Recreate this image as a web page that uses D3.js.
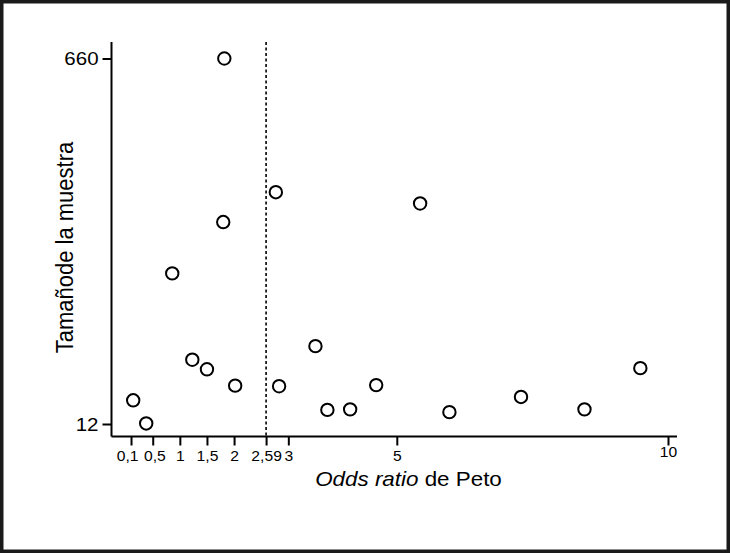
<!DOCTYPE html>
<html>
<head>
<meta charset="utf-8">
<script src="https://cdn.jsdelivr.net/npm/d3@7"></script>
<style>
  html, body { margin: 0; padding: 0; background: #fff; }
  svg { display: block; }
  text { font-family: "Liberation Sans", Arial, Helvetica, sans-serif; fill: #000; }
</style>
</head>
<body>
<svg id="chart" width="730" height="553"></svg>
<script>
// Data: Peto odds ratio (x) vs sample size (y)
const oddsRatio = [1.82, 2.77, 5.43, 1.80, 0.86, 3.50, 1.23, 1.50, 9.49, 2.02, 2.83, 4.62, 7.29, 0.14, 3.72, 4.14, 8.46, 5.97, 0.38];
const sampleSize = [660, 423, 403, 370, 279, 150, 126, 109, 111, 80, 79, 81, 60, 54, 37, 38, 38, 33, 13];
const xTickValues = [0.1, 0.5, 1, 1.5, 2, 2.59, 3, 5, 10];
const yTickValues = [12, 660];
const pooledOR = 2.59;

const svg = d3.select("#chart");
const W = 730, H = 553;

// outer frame
svg.append("rect")
  .attr("x", 1.75).attr("y", 1.75)
  .attr("width", W - 3.5).attr("height", H - 3.5)
  .attr("fill", "#fff").attr("stroke", "#1a1a1a").attr("stroke-width", 3.5);

const axisX = 111.5, axisY = 436.5;
const x = d3.scaleLinear().domain([0, 10]).range([125.6, 668]);
const y = d3.scaleLinear().domain([12, 660]).range([424, 58.5]);

const fmt = d => String(d).replace(".", ",");
// small label nudges so the crowded first labels do not overlap
const labelShift = { 0.1: -3.5, 0.5: 1.5, 10: 0 };

// x axis
const gx = svg.append("g").attr("transform", `translate(0,${axisY})`)
  .call(d3.axisBottom(x).tickValues(xTickValues).tickFormat(fmt).tickSize(9).tickPadding(6));
gx.select(".domain").remove();
gx.selectAll(".tick line").attr("stroke", "#000").attr("stroke-width", 2);
gx.selectAll(".tick text")
  .attr("font-size", 14).attr("fill", "#000")
  .attr("font-family", "Liberation Sans, Arial, sans-serif")
  .attr("x", d => labelShift[d] || 0)
  .attr("y", d => d === 10 ? 11 : 15)
  .attr("transform", "scale(1.12,1)");
svg.append("line")
  .attr("x1", axisX).attr("x2", 677)
  .attr("y1", axisY).attr("y2", axisY)
  .attr("stroke", "#000").attr("stroke-width", 2);

// y axis
const gy = svg.append("g").attr("transform", `translate(${axisX},0)`)
  .call(d3.axisLeft(y).tickValues(yTickValues).tickSize(9).tickPadding(4));
gy.select(".domain").remove();
gy.selectAll(".tick line").attr("stroke", "#000").attr("stroke-width", 2);
gy.selectAll(".tick text")
  .attr("font-size", 19).attr("fill", "#000")
  .attr("font-family", "Liberation Sans, Arial, sans-serif")
  .attr("x", -12)
  .attr("transform", "scale(1.08,1)");
svg.append("line")
  .attr("x1", axisX).attr("x2", axisX)
  .attr("y1", 42).attr("y2", axisY)
  .attr("stroke", "#000").attr("stroke-width", 2);

// pooled OR dashed line
svg.append("line")
  .attr("x1", x(pooledOR)).attr("x2", x(pooledOR))
  .attr("y1", 42).attr("y2", axisY)
  .attr("stroke", "#000").attr("stroke-width", 1.6)
  .attr("stroke-dasharray", "3,2.5");

// points
const pts = oddsRatio.map((v, i) => ({ or: v, n: sampleSize[i] }));
svg.append("g").selectAll("circle").data(pts).join("circle")
  .attr("cx", d => x(d.or)).attr("cy", d => y(d.n))
  .attr("r", 6.2)
  .attr("fill", "#fff").attr("stroke", "#000").attr("stroke-width", 2);

// x axis title
const xt = svg.append("text")
  .attr("transform", "translate(408.5,486) scale(1.12,1)")
  .attr("text-anchor", "middle").attr("font-size", 20);
xt.append("tspan").attr("font-style", "italic").text("Odds ratio");
xt.append("tspan").text(" de Peto");

// y axis title
svg.append("text")
  .attr("transform", "translate(73,247.5) rotate(-90) scale(1,1.12)")
  .attr("text-anchor", "middle").attr("font-size", 22)
  .text("Tamañode la muestra");
</script>
</body>
</html>
